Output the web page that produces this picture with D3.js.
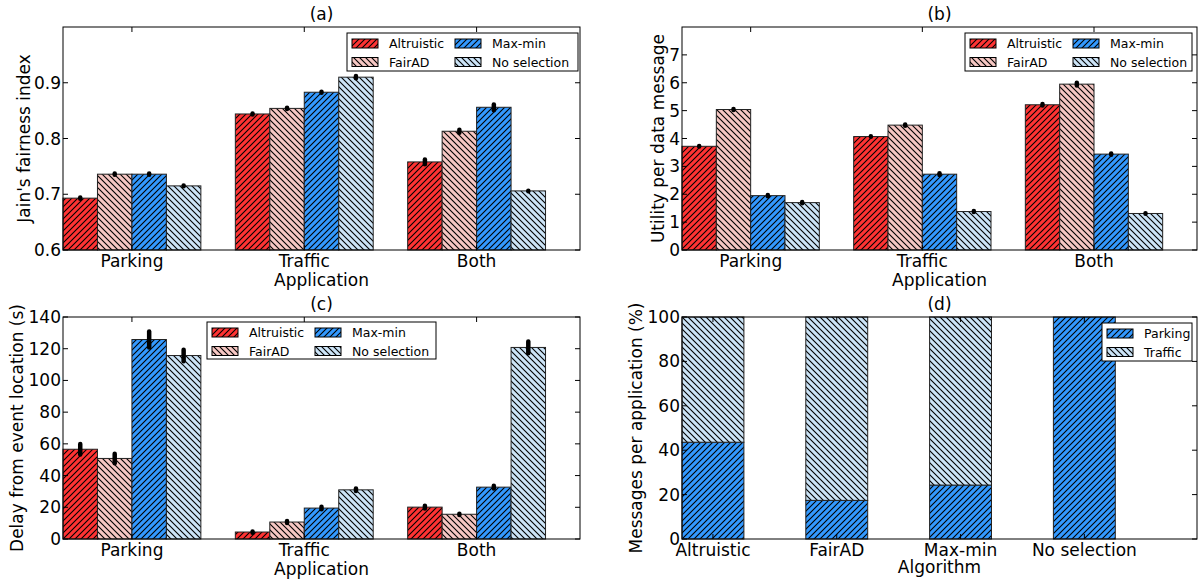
<!DOCTYPE html>
<meta charset="utf-8">
<style>
  body { margin: 0; background: #fff; }
  text { font-family: "DejaVu Sans", sans-serif; fill: #000; }
</style>
<script src="https://d3js.org/d3.v7.min.js"></script>
<body>
<script>
// categories
var applications = ["Parking", "Traffic", "Both"];
var algorithms = ["Altruistic", "FairAD", "Max-min", "No selection"];
var algColors = ["#ff3333", "#f6c7c3", "#3399ff", "#cce4f7"];
var algHatch = ["/", "\\", "/", "\\"];

// (a) Jain's fairness index, rows = application, cols = algorithm
var jainMean = [[0.693, 0.736, 0.736, 0.715],
                [0.844, 0.854, 0.883, 0.910],
                [0.758, 0.813, 0.856, 0.706]];
var jainErr  = [[0.001, 0.001, 0.001, 0.0005],
                [0.001, 0.001, 0.001, 0.002],
                [0.0043, 0.0025, 0.0052, 0.0005]];
var jainTicks = [0.6, 0.7, 0.8, 0.9];

// (b) utility per data message
var utilMean = [[3.72, 5.04, 1.95, 1.70],
                [4.07, 4.48, 2.72, 1.38],
                [5.21, 5.95, 3.44, 1.31]];
var utilErr  = [[0.01, 0.02, 0.02, 0.02],
                [0.01, 0.02, 0.03, 0.02],
                [0.03, 0.05, 0.02, 0.01]];
var utilTicks = [0, 1, 2, 3, 4, 5, 6, 7];

// (c) delay from event location (s)
var delayMean = [[56.6, 50.8, 125.8, 115.7],
                 [4.4, 10.7, 19.5, 31.0],
                 [20.1, 15.6, 32.7, 120.8]];
var delayErr  = [[3.3, 3.0, 5.1, 3.6],
                 [0.4, 0.6, 0.8, 0.8],
                 [0.8, 0.4, 0.9, 3.7]];
var delayTicks = [0, 20, 40, 60, 80, 100, 120, 140];

// (d) messages per application (%)
var shareApps = ["Parking", "Traffic"];
var parkingShare = [43.6, 17.4, 24.3, 100];
var trafficShare = [56.4, 82.6, 75.7, 0];
var shareTicks = [0, 20, 40, 60, 80, 100];

var svg = d3.select("body").append("svg")
    .attr("width", 1198)
    .attr("height", 581);

// hatch patterns, one per algorithm colour
var defs = svg.append("defs");
algColors.forEach(function(c, i) {
  var p = defs.append("pattern")
      .attr("id", "hatch" + i)
      .attr("patternUnits", "userSpaceOnUse")
      .attr("width", 6)
      .attr("height", 6);
  p.append("rect").attr("width", 6).attr("height", 6).attr("fill", c);
  p.append("path")
      .attr("d", algHatch[i] == "/" ? "M-1,1L1,-1M0,6L6,0M5,7L7,5" : "M-1,5L1,7M0,0L6,6M5,-1L7,1")
      .attr("stroke", "#000")
      .attr("stroke-width", 1.1);
});

function makePanel(o) {
  var g = svg.append("g").attr("transform", "translate(" + o.left + "," + o.top + ")");
  var x = d3.scaleLinear().domain(o.xDomain).range([0, o.width]);
  var y = d3.scaleLinear().domain(o.yDomain).range([o.height, 0]);

  g.append("rect")
      .attr("width", o.width).attr("height", o.height)
      .attr("fill", "#fff");

  o.draw(g, x, y);

  // ticks inside on all four sides
  var ticks = g.append("g");
  o.yTicks.forEach(function(t) {
    ticks.append("line").attr("x1", 0).attr("x2", 5).attr("y1", y(t)).attr("y2", y(t));
    ticks.append("line").attr("x1", o.width).attr("x2", o.width - 5).attr("y1", y(t)).attr("y2", y(t));
    g.append("text")
      .attr("x", -2).attr("y", y(t))
      .attr("text-anchor", "end")
      .attr("dominant-baseline", "central")
      .style("font-size", "17px")
      .text(o.yFormat(t));
  });
  o.xTicks.forEach(function(t, i) {
    ticks.append("line").attr("x1", x(t)).attr("x2", x(t)).attr("y1", o.height).attr("y2", o.height - 5);
    ticks.append("line").attr("x1", x(t)).attr("x2", x(t)).attr("y1", 0).attr("y2", 5);
    g.append("text")
      .attr("x", x(t)).attr("y", o.height + 17)
      .attr("text-anchor", "middle")
      .style("font-size", "17px")
      .text(o.xLabels[i]);
  });
  ticks.selectAll("line").attr("stroke", "#000").attr("stroke-width", 1);

  g.append("rect")
      .attr("width", o.width).attr("height", o.height)
      .attr("fill", "none").attr("stroke", "#000").attr("stroke-width", 1);

  g.append("text")
      .attr("x", o.width / 2).attr("y", -7)
      .attr("text-anchor", "middle")
      .style("font-size", "17px")
      .text(o.title);
  g.append("text")
      .attr("x", o.width / 2).attr("y", o.height + o.xlabelDy)
      .attr("text-anchor", "middle")
      .style("font-size", "17px")
      .text(o.xlabel);
  g.append("text")
      .attr("transform", "translate(" + (o.ylabelX - o.left) + "," + (o.height / 2) + ") rotate(-90)")
      .attr("text-anchor", "middle")
      .attr("dominant-baseline", "central")
      .style("font-size", "17px")
      .text(o.ylabel);

  o.legend(g);
  return g;
}

function groupedBars(mean, err) {
  return function(g, x, y) {
    applications.forEach(function(app, i) {
      var row = g.append("g");
      row.selectAll("rect").data(mean[i]).enter().append("rect")
        .attr("x", function(d, j) { return x(i + j * 0.2); })
        .attr("width", x(0.2) - x(0))
        .attr("y", function(d) { return y(d); })
        .attr("height", function(d) { return y(y.domain()[0]) - y(d); })
        .attr("fill", function(d, j) { return "url(#hatch" + j + ")"; })
        .attr("stroke", "#222")
        .attr("stroke-width", 1);
      row.selectAll("line").data(mean[i]).enter().append("line")
        .attr("x1", function(d, j) { return x(i + j * 0.2 + 0.1); })
        .attr("x2", function(d, j) { return x(i + j * 0.2 + 0.1); })
        .attr("y1", function(d, j) { return y(d - err[i][j]); })
        .attr("y2", function(d, j) { return y(d + err[i][j]); })
        .attr("stroke", "#000")
        .attr("stroke-width", 4.5)
        .attr("stroke-linecap", "round");
    });
  };
}

function legend(names, hatchIds, left, top, w, h, col2) {
  return function(g) {
    var lg = g.append("g").attr("transform", "translate(" + left + "," + top + ")");
    lg.append("rect").attr("width", w).attr("height", h)
      .attr("fill", "#fff").attr("stroke", "#000").attr("stroke-width", 1);
    names.forEach(function(n, k) {
      var col = col2 ? k % 2 : 0, row = col2 ? Math.floor(k / 2) : k;
      var px = 5 + col * col2, py = 6 + row * 18.5;
      lg.append("rect").attr("x", px).attr("y", py).attr("width", 26).attr("height", 9)
        .attr("fill", "url(#hatch" + hatchIds[k] + ")")
        .attr("stroke", "#000").attr("stroke-width", 1);
      lg.append("text").attr("x", px + 37).attr("y", py + 4.5)
        .attr("dominant-baseline", "central")
        .style("font-size", "12.5px")
        .text(n);
    });
  };
}

// legend order: column-major like matplotlib (Altruistic, FairAD | Max-min, No selection)
var legNames = [algorithms[0], algorithms[2], algorithms[1], algorithms[3]];
var legIds = [0, 2, 1, 3];

var groupTicks = [0.4, 1.4, 2.4];

makePanel({
  left: 63, top: 27, width: 517, height: 223,
  xDomain: [0, 3], yDomain: [0.6, 1.0],
  xTicks: groupTicks, xLabels: applications,
  yTicks: jainTicks, yFormat: d3.format(".1f"),
  title: "(a)", xlabel: "Application", xlabelDy: 36,
  ylabel: "Jain's fairness index", ylabelX: 24,
  draw: groupedBars(jainMean, jainErr),
  legend: legend(legNames, legIds, 284, 6, 231, 38, 103)
});

makePanel({
  left: 682, top: 27, width: 515, height: 223,
  xDomain: [0, 3], yDomain: [0, 8],
  xTicks: groupTicks, xLabels: applications,
  yTicks: utilTicks, yFormat: d3.format("d"),
  title: "(b)", xlabel: "Application", xlabelDy: 36,
  ylabel: "Utility per data message", ylabelX: 658,
  draw: groupedBars(utilMean, utilErr),
  legend: legend(legNames, legIds, 283, 6, 227, 38, 103)
});

makePanel({
  left: 63, top: 317, width: 517, height: 222,
  xDomain: [0, 3], yDomain: [0, 140],
  xTicks: groupTicks, xLabels: applications,
  yTicks: delayTicks, yFormat: d3.format("d"),
  title: "(c)", xlabel: "Application", xlabelDy: 36,
  ylabel: "Delay from event location (s)", ylabelX: 17,
  draw: groupedBars(delayMean, delayErr),
  legend: legend(legNames, legIds, 144, 5, 229, 37, 103)
});

makePanel({
  left: 682, top: 317, width: 515, height: 222,
  xDomain: [0, 4.16], yDomain: [0, 100],
  xTicks: [0.25, 1.25, 2.25, 3.25], xLabels: algorithms,
  yTicks: shareTicks, yFormat: d3.format("d"),
  title: "(d)", xlabel: "Algorithm", xlabelDy: 34,
  ylabel: "Messages per application (%)", ylabelX: 636,
  draw: function(g, x, y) {
    var stack = g.append("g");
    stack.selectAll("rect.park").data(parkingShare).enter().append("rect")
      .attr("x", function(d, i) { return x(i); })
      .attr("width", x(0.5) - x(0))
      .attr("y", function(d) { return y(d); })
      .attr("height", function(d) { return y(0) - y(d); })
      .attr("fill", "url(#hatch2)");
    stack.selectAll("rect.traf").data(trafficShare).enter().append("rect")
      .attr("x", function(d, i) { return x(i); })
      .attr("width", x(0.5) - x(0))
      .attr("y", function(d, i) { return y(parkingShare[i] + d); })
      .attr("height", function(d, i) { return y(parkingShare[i]) - y(parkingShare[i] + d); })
      .attr("fill", "url(#hatch3)");
    stack.selectAll("rect").attr("stroke", "#222").attr("stroke-width", 1);
  },
  legend: legend(shareApps, [2, 3], 420, 6, 90, 38, 0)
});
</script>
</body>
</html>
